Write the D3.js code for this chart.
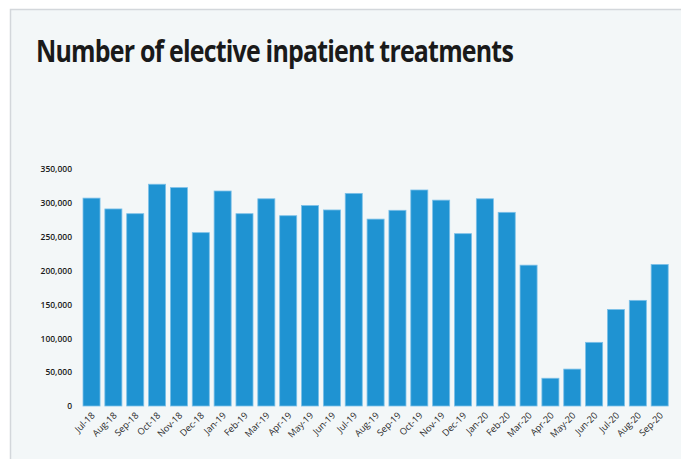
<!DOCTYPE html>
<html>
<head>
<meta charset="utf-8">
<script src="https://cdn.jsdelivr.net/npm/d3@7"></script>
<style>
  html, body { margin: 0; padding: 0; background: #ffffff; }
  svg { display: block; }
</style>
</head>
<body>
<script>
// Monthly elective inpatient treatments, Jul 2018 – Sep 2020
const months = ["Jul-18","Aug-18","Sep-18","Oct-18","Nov-18","Dec-18","Jan-19","Feb-19","Mar-19","Apr-19","May-19","Jun-19","Jul-19","Aug-19","Sep-19","Oct-19","Nov-19","Dec-19","Jan-20","Feb-20","Mar-20","Apr-20","May-20","Jun-20","Jul-20","Aug-20","Sep-20"];
const treatments = [307000,291000,284000,327500,322500,256000,317500,284000,306000,281000,296000,289500,314000,276000,289000,319000,304000,254500,306000,286000,208000,41000,54500,94000,142500,156000,209000];
const yTicks = [0,50000,100000,150000,200000,250000,300000,350000];
const title = "Number of elective inpatient treatments";

const W = 681, H = 459;
const svg = d3.select("body").append("svg").attr("width", W).attr("height", H);

// panel background with thin border
svg.append("rect").attr("x", 10.5).attr("y", 9.5).attr("width", W).attr("height", H)
  .attr("fill", "#f3f7f8").attr("stroke", "#d3d7db").attr("stroke-width", 1.5);

svg.append("text")
  .attr("x", 36).attr("y", 62)
  .attr("font-family", "'Open Sans', sans-serif")
  .attr("font-weight", 700)
  .attr("font-size", 31)
  .attr("letter-spacing", -1)
  .attr("textLength", 477)
  .attr("lengthAdjust", "spacingAndGlyphs")
  .attr("fill", "#1a1a1a")
  .text(title);

const x = d3.scaleBand().domain(months).range([80.6, 670.6]).paddingInner(0.22).paddingOuter(0.11);
const y = d3.scaleLinear().domain([0, 350000]).range([406, 169]);

// bars
svg.append("g").selectAll("rect").data(months).join("rect")
  .attr("x", (d) => x(d))
  .attr("y", (d, i) => y(treatments[i]))
  .attr("width", x.bandwidth())
  .attr("height", (d, i) => y(0) - y(treatments[i]))
  .attr("fill", "#1f93d2")
  .attr("stroke", "#7cc0e8")
  .attr("stroke-width", 0.8);

// y axis labels
const yAxis = d3.axisLeft(y).tickValues(yTicks).tickSize(0).tickPadding(0)
  .tickFormat(d3.format(","));
const gy = svg.append("g").attr("transform", "translate(72,0)").call(yAxis);
gy.select(".domain").remove();
gy.selectAll("text")
  .attr("font-family", "'Open Sans', sans-serif")
  .attr("font-weight", 600)
  .attr("font-size", 8.5)
  .attr("fill", "#1a1a1a");

// x axis labels, rotated
const xAxis = d3.axisBottom(x).tickSize(0).tickPadding(0);
const gx = svg.append("g").attr("transform", "translate(0,406)").call(xAxis);
gx.select(".domain").remove();
gx.selectAll("text")
  .attr("font-family", "'Open Sans', sans-serif")
  .attr("font-size", 9.2)
  .attr("fill", "#2a2a2a")
  .attr("text-anchor", "end")
  .attr("dy", null)
  .attr("y", 0)
  .attr("transform", "translate(4,10) rotate(-45)");
</script>
</body>
</html>
